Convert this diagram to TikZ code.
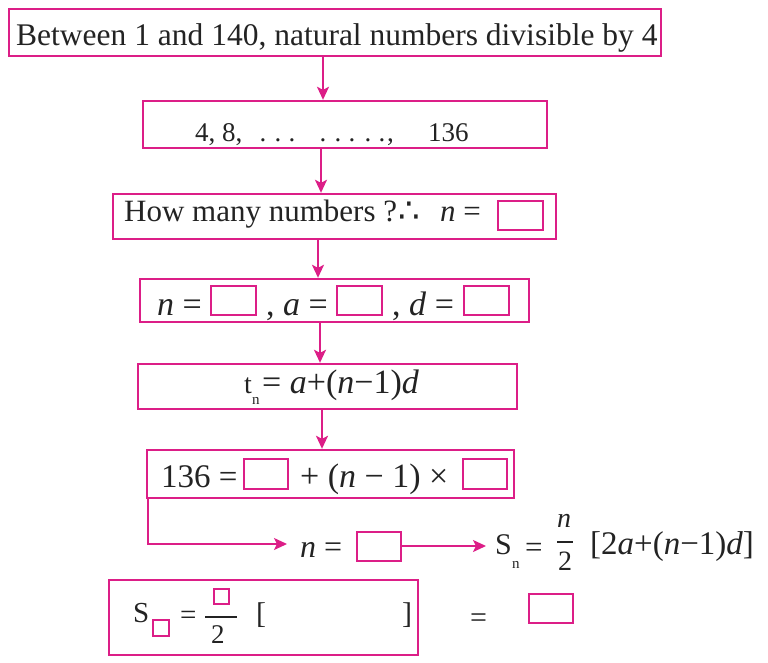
\documentclass[tikz,border=0pt]{standalone}
\usepackage{fontspec}
\setmainfont{Liberation Serif}
\newfontfamily\symfont{DejaVu Sans}
\usepackage{tikz}
\usetikzlibrary{arrows.meta}

\definecolor{pinkline}{RGB}{220,30,135}
\definecolor{ink}{RGB}{35,35,35}
\newcommand{\fs}[1]{\fontsize{#1}{#1}\selectfont}

\tikzset{
  box/.style={draw=pinkline, line width=2.4pt, inner sep=0pt},
  blank/.style={draw=pinkline, line width=2pt, fill=white, inner sep=0pt, minimum width=45pt, minimum height=29pt},
  txt/.style={anchor=base west, inner sep=0pt, text=ink, font=\fs{#1}},
  bar/.style={fill=ink, inner sep=0pt, minimum height=1.2pt},
  arr/.style={draw=pinkline, line width=1.8pt, -{Stealth[length=13pt, width=12pt, inset=3pt]}}
}

\begin{document}
\begin{tikzpicture}[x=1pt, y=-1pt]
    \useasboundingbox (0,0) rectangle (768,662);

    % Draw boxes
    \node[box, minimum width=652pt, minimum height=47pt] (between) at (335,32.5) {};
    \node[box, minimum width=404pt, minimum height=47pt] (seq) at (345,124.5) {};
    \node[box, minimum width=443pt, minimum height=45pt] (howmany) at (334.5,216.5) {};
    \node[box, minimum width=389pt, minimum height=43pt] (given) at (334.5,300.5) {};
    \node[box, minimum width=379pt, minimum height=45pt] (tn) at (327.5,386.5) {};
    \node[box, minimum width=367pt, minimum height=48pt] (subst) at (330.5,474) {};
    \node[box, minimum width=309pt, minimum height=75pt] (sum) at (263.5,617.5) {};

    % Arrows down the middle
    \foreach \a/\b/\x in {between/seq/323, seq/howmany/321, howmany/given/318, given/tn/320, tn/subst/322} {
      \path (\x,0) coordinate (spine);
      \draw[arr] (\a.south -| spine) -- (\b.north -| spine);
    }

    % Row texts
    \node[txt=31.5] (betweentext) at (16,45) {Between 1 and 140, natural numbers divisible by 4};

    \node[txt=27] (seqstart) at (195,141) {4, 8,};
    \foreach \x in {263,278,292,323,338,352,368,382} {
      \node[txt=27, anchor=base] (dot\x) at (\x,141) {.};
    }
    \node[txt=27] (seqcomma) at (387,141) {,};
    \node[txt=27] (seqend) at (428,141) {136};

    \node[txt=31] (howtext) at (124,221) {How many numbers ?};
    \node[txt=24, font=\fs{34}\symfont] (therefore) at (398,222) {∴};
    \node[txt=31] (hown) at (440,221) {\textit{n} =};
    \node[blank] (howbox) at (520.5,215.5) {};

    \node[txt=34] (givenn) at (157,315) {\textit{n} =};
    \node[blank] (nbox) at (233.5,300.5) {};
    \node[txt=34] (givena) at (266,315) {, \textit{a} =};
    \node[blank] (abox) at (359.5,300.5) {};
    \node[txt=34] (givend) at (392,315) {, \textit{d} =};
    \node[blank] (dbox) at (486.5,300.5) {};

    \node[txt=28] (tnt) at (244,393) {t};
    \node[txt=15] (tnsub) at (252,404) {n};
    \node[txt=34] (tnrest) at (262,393) {= \textit{a}+(\textit{n}−1)\textit{d}};

    \node[txt=33] (substleft) at (161,487) {136 =};
    \node[blank, minimum width=44pt, minimum height=30pt] (firstbox) at (266,474) {};
    \node[txt=34] (substmid) at (300,487) {+ (\textit{n} − 1) ×};
    \node[blank, minimum width=44pt, minimum height=30pt] (diffbox) at (484.5,474) {};

    % Found n, then the sum formula
    \coordinate (nin) at (287,544);
    \draw[arr] ([xshift=2pt]subst.south west) |- (nin);
    \node[txt=32] (nfound) at (300,557) {\textit{n} =};
    \node[blank, minimum width=44pt] (nfoundbox) at (379,546) {};
    \coordinate (snin) at (486,546);
    \draw[arr] (nfoundbox.east) -- (nfoundbox.east -| snin);

    \node[txt=30] (sns) at (495,554) {S};
    \node[txt=15] (snsub) at (512,568) {n};
    \node[txt=31] (sneq) at (525,557) {=};
    \node[txt=28] (snnum) at (557,527) {\textit{n}};
    \node[bar, minimum width=16pt] (snbar) at (565,542) {};
    \node[txt=28] (snden) at (558,570) {2};
    \node[txt=33] (snbrack) at (590,554) {[2\textit{a}+(\textit{n}−1)\textit{d}]};

    % Sum to fill in
    \node[txt=29] (sums) at (133,622) {S};
    \node[blank, line width=1.8pt, minimum width=16pt, minimum height=16pt] (sumsub) at (161,628) {};
    \node[txt=29] (sumeq) at (180,624) {=};
    \node[blank, line width=1.8pt, minimum width=15pt, minimum height=15pt] (sumnum) at (221.5,596.5) {};
    \node[bar, minimum width=32pt] (sumbar) at (221,617) {};
    \node[txt=27] (sumden) at (211,643) {2};
    \node[txt=30] (sumopen) at (256,623) {[};
    \node[txt=30] (sumclose) at (402,623) {]};
    \node[txt=30] (totaleq) at (470,627) {=};
    \node[blank, minimum width=44pt] (totalbox) at (551,608.5) {};
\end{tikzpicture}
\end{document}
